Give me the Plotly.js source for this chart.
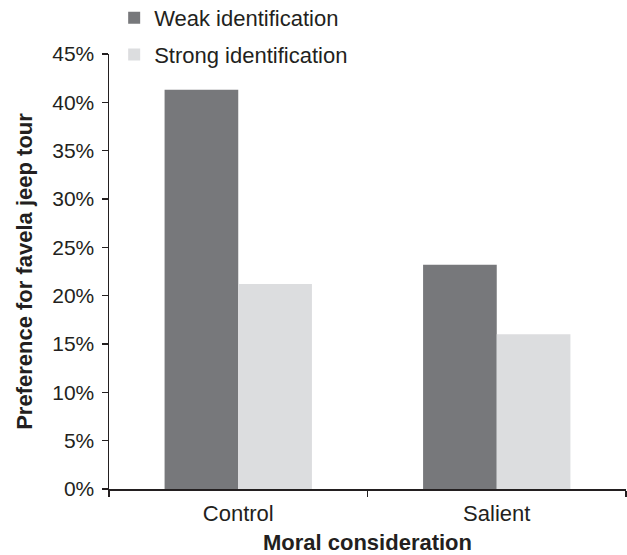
<!DOCTYPE html>
<html>
<head>
<meta charset="utf-8">
<script src="https://cdn.plot.ly/plotly-3.0.1.min.js"></script>
<style>html,body{margin:0;padding:0;background:#fff}#chart{width:627px;height:555px}</style>
</head>
<body>
<div id="chart"></div>
<script>
const categories = ["Control", "Salient"];
const seriesNames = ["Weak identification", "Strong identification"];
const weakValues = [0.413, 0.232];
const strongValues = [0.212, 0.160];
const yTickVals = [0, 0.05, 0.10, 0.15, 0.20, 0.25, 0.30, 0.35, 0.40, 0.45];
const yTickText = ["0%", "5%", "10%", "15%", "20%", "25%", "30%", "35%", "40%", "45%"];
const xTitle = "Moral consideration";
const yTitle = "Preference for favela jeep tour";

const font = "Liberation Sans, Arial, sans-serif";
const axisColor = "#231f20";
const textColor = "#231f20";

const data = [
  {type: "bar", name: seriesNames[0], x: categories, y: weakValues,
   marker: {color: "#77787b"}, legendgroup: "a"},
  {type: "bar", name: seriesNames[1], x: categories, y: strongValues,
   marker: {color: "#dcdddf"}, legendgroup: "b"}
];

const layout = {
  width: 627, height: 555,
  margin: {l: 109, r: 1, t: 54, b: 66, autoexpand: false},
  paper_bgcolor: "#fff", plot_bgcolor: "#fff",
  font: {family: font, size: 21, color: textColor},
  barmode: "group", bargap: 0.43, bargroupgap: 0,
  showlegend: true,
  legend: {x: 0.01, xanchor: "left", xref: "paper", y: 1.131, yanchor: "top", yref: "paper",
           orientation: "v", traceorder: "grouped", tracegroupgap: 5,
           font: {family: font, size: 22, color: textColor}, bgcolor: "rgba(0,0,0,0)"},
  xaxis: {
    type: "category", showline: true, linecolor: axisColor, linewidth: 1.5,
    ticks: "outside", tickson: "boundaries", ticklen: 6, tickcolor: axisColor, tickwidth: 1.5,
    ticklabelstandoff: 4,
    showgrid: false, zeroline: false,
    tickfont: {family: font, size: 22, color: textColor},
    title: {text: "<b>" + xTitle + "</b>", font: {family: font, size: 22, color: textColor}, standoff: 11}
  },
  yaxis: {
    range: [0, 0.45], showline: true, linecolor: axisColor, linewidth: 1.5,
    ticks: "outside", ticklen: 6, tickcolor: axisColor, tickwidth: 1.5,
    ticklabelstandoff: 3,
    tickvals: yTickVals, ticktext: yTickText,
    showgrid: false, zeroline: false,
    tickfont: {family: font, size: 21, color: textColor},
    title: {text: "<b>" + yTitle + "</b>", font: {family: font, size: 22, color: textColor}, standoff: 13}
  }
};

Plotly.newPlot("chart", data, layout, {displayModeBar: false, staticPlot: true});
</script>
</body>
</html>
